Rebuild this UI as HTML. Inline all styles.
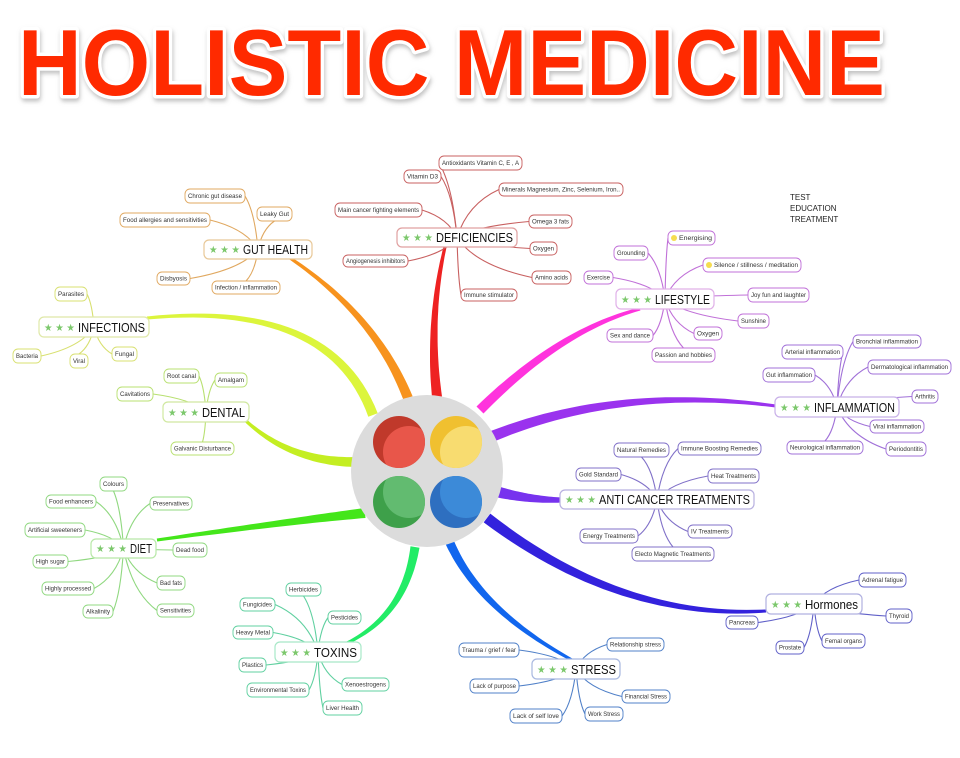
<!DOCTYPE html>
<html><head><meta charset="utf-8"><style>
html,body{margin:0;padding:0;background:#fff;}
svg{display:block;font-family:"Liberation Sans",Arial,sans-serif;}
</style></head><body>
<svg id="s" width="960" height="758" viewBox="0 0 960 758" xmlns="http://www.w3.org/2000/svg">
<defs><filter id="sh" x="-5%" y="-20%" width="110%" height="150%"><feDropShadow dx="1" dy="3" stdDeviation="2" flood-color="#999" flood-opacity="0.6"/></filter>
<clipPath id="c1"><circle cx="399" cy="442" r="26"/></clipPath>
<clipPath id="c2"><circle cx="456" cy="442" r="26"/></clipPath>
<clipPath id="c3"><circle cx="399" cy="502" r="26"/></clipPath>
<clipPath id="c4"><circle cx="456" cy="502" r="26"/></clipPath>
</defs>
<text x="18" y="95" font-size="94" font-weight="bold" textLength="867" lengthAdjust="spacingAndGlyphs" fill="#ff2a00" stroke="#fff" stroke-width="7" paint-order="stroke" stroke-linejoin="round" filter="url(#sh)">HOLISTIC MEDICINE</text>
<text x="790" y="200" font-size="8" fill="#222">TEST</text>
<text x="790" y="211" font-size="8" fill="#222">EDUCATION</text>
<text x="790" y="222" font-size="8" fill="#222">TREATMENT</text>
<g id="mc"></g><g id="lc"></g>
<circle cx="427" cy="471" r="76" fill="#dcdcdc"/>
<circle cx="399" cy="442" r="26" fill="#c0392b"/><circle cx="409" cy="452" r="26" fill="#e8564a" clip-path="url(#c1)"/>
<circle cx="456" cy="442" r="26" fill="#f0c030"/><circle cx="466" cy="452" r="26" fill="#f8dc70" clip-path="url(#c2)"/>
<circle cx="399" cy="502" r="26" fill="#3ea04a"/><circle cx="409" cy="492" r="26" fill="#62bb70" clip-path="url(#c3)"/>
<circle cx="456" cy="502" r="26" fill="#2e6fc0"/><circle cx="466" cy="492" r="26" fill="#3c8ad8" clip-path="url(#c4)"/>
<g id="bx"></g>
</svg>
<script>
const NS='http://www.w3.org/2000/svg';
function el(t,a,p,txt){const e=document.createElementNS(NS,t);for(const k in a)e.setAttribute(k,a[k]);if(txt!==undefined)e.textContent=txt;document.getElementById(p).appendChild(e);return e;}
const M=[
[408,398,375,315,290,258,'#f7931e',10,3],
[437,397,428,320,445,247,'#ee2222',10,3],
[373,415,330,300,147,318,'#dcf53c',10,3],
[355,462,290,462,245,420,'#c4ee22',10,3],
[365,513,300,520,157,540,'#44e61a',10,3],
[415,547,405,615,347,643,'#22ec66',9,3],
[450,543,480,610,572,660,'#1166ee',9,3],
[487,518,620,620,766,611,'#3322dd',11,3],
[498,492,530,500,562,500,'#7733ee',11,5],
[493,436,620,385,776,406,'#9a33ee',11,3],
[480,410,560,330,640,309,'#ff33dd',10,3]];
M.forEach(m=>{const [x0,y0,cx,cy,x1,y1,c,w0,w1]=m;const L=[],R=[];const N=30;
for(let i=0;i<=N;i++){const t=i/N;const x=(1-t)*(1-t)*x0+2*(1-t)*t*cx+t*t*x1,y=(1-t)*(1-t)*y0+2*(1-t)*t*cy+t*t*y1;
let dx=2*(1-t)*(cx-x0)+2*t*(x1-cx),dy=2*(1-t)*(cy-y0)+2*t*(y1-cy);const l=Math.hypot(dx,dy);const w=(w0+(w1-w0)*t)/2;
L.push([x-dy/l*w,y+dx/l*w]);R.push([x+dy/l*w,y-dx/l*w]);}
const pts=L.concat(R.reverse()).map(p=>p[0].toFixed(1)+','+p[1].toFixed(1)).join(' ');el('polygon',{points:pts,fill:c},'mc');});
const D=[
['GUT HEALTH',204,240,312,259,'#e8c898','#e0a860',[['Chronic gut disease',185,189,245,203],['Leaky Gut',257,207,292,221],['Food allergies and sensitivities',120,213,210,227],['Disbyosis',157,272,190,285],['Infection / inflammation',212,281,280,294]]],
['DEFICIENCIES',397,228,517,247,'#e0a0a0','#c86060',[['Antioxidants Vitamin C, E , A',439,156,522,170],['Vitamin D3',404,170,441,183],['Minerals Magnesium, Zinc, Selenium, Iron..',499,183,623,196],['Main cancer fighting elements',335,203,422,217],['Omega 3 fats',529,215,572,228],['Oxygen',530,242,557,255],['Angiogenesis inhibitors',343,255,408,267],['Amino acids',532,271,571,284],['Immune stimulator',461,289,517,301]]],
['INFECTIONS',39,317,149,337,'#dfe8a8','#d8e070',[['Parasites',55,287,87,301],['Bacteria',13,349,41,363],['Viral',70,354,88,368],['Fungal',112,347,137,361]]],
['DENTAL',163,402,249,422,'#d0e8a0','#b8e070',[['Root canal',164,369,199,383],['Amalgam',215,373,247,387],['Cavitations',117,387,153,401],['Galvanic Disturbance',171,442,234,455]]],
['DIET',91,539,156,558,'#b8e8a8','#90d880',[['Colours',100,477,127,491],['Food enhancers',46,495,96,508],['Preservatives',150,497,192,510],['Artificial sweeteners',25,523,85,537],['Dead food',173,543,207,557],['High sugar',33,555,68,568],['Highly processed',42,582,94,595],['Bad fats',157,576,185,590],['Alkalinity',83,605,113,618],['Sensitivities',157,604,194,617]]],
['TOXINS',275,642,361,662,'#a8e8c8','#60d0a0',[['Herbicides',286,583,321,596],['Fungicides',240,598,275,611],['Pesticides',328,611,361,624],['Heavy Metal',233,626,273,639],['Plastics',239,658,266,672],['Xenoestrogens',342,678,389,691],['Environmental Toxins',247,683,309,697],['Liver Health',323,701,362,715]]],
['LIFESTYLE',616,289,714,309,'#e0b0e8','#c070d8',[['Energising',668,231,715,245,1],['Grounding',614,246,648,260],['Silence / stillness / meditation',703,258,801,272,1],['Exercise',584,271,613,284],['Joy fun and laughter',748,288,809,302],['Sunshine',738,314,769,328],['Sex and dance',607,329,653,342],['Oxygen',694,327,722,340],['Passion and hobbies',652,348,715,362]]],
['INFLAMMATION',775,397,899,417,'#c8b0e8','#a070d8',[['Bronchial inflammation',853,335,921,348],['Arterial inflammation',782,345,843,359],['Dermatological inflammation',868,360,951,374],['Gut inflammation',763,368,815,382],['Arthritis',912,390,938,403],['Viral inflammation',870,420,924,433],['Neurological inflammation',787,441,863,454],['Periodontitis',886,442,926,456]]],
['ANTI CANCER TREATMENTS',560,490,754,509,'#b8b0e0','#8070c8',[['Natural Remedies',614,443,669,457],['Immune Boosting Remedies',678,442,761,455],['Gold Standard',576,468,621,481],['Heat Treatments',708,469,759,483],['Energy Treatments',580,529,638,543],['IV Treatments',688,525,732,538],['Electo Magnetic Treatments',632,547,714,561]]],
['Hormones',766,594,862,614,'#b0b0e0','#6060c8',[['Adrenal fatigue',859,573,906,587],['Thyroid',886,609,912,623],['Pancreas',726,616,758,629],['Femal organs',822,634,865,648],['Prostate',776,641,804,654]]],
['STRESS',532,659,620,679,'#a8b8e0','#5080c8',[['Relationship stress',607,638,664,651],['Trauma / grief / fear',459,643,519,657],['Lack of purpose',470,679,519,693],['Financial Stress',622,690,670,703],['Lack of self  love',510,709,562,723],['Work Stress',585,707,623,721]]]];
D.forEach(d=>{const [lab,x1,y1,x2,y2,bc,lc,lv]=d;const hx=(x1+x2)/2,hy=(y1+y2)/2;
lv.forEach(l=>{const [t,a,b,c,e]=l;const lx=(a+c)/2,ly=(b+e)/2;const ex=lx<hx-20?c:(lx>hx+20?a:lx);const ey=Math.abs(lx-hx)<=20?(ly<hy?e:b):ly;
const kx=hx*0.75+ex*0.25,ky=hy*0.3+ey*0.7;
el('path',{d:`M${hx} ${hy} Q${kx} ${ky} ${ex} ${ey}`,fill:'none',stroke:lc,'stroke-width':1.1},'lc');
el('rect',{x:a,y:b,width:c-a,height:e-b,rx:5,fill:'#fff',stroke:lc,'stroke-width':0.9},'bx');
let tx=a+3;if(l[5]){el('circle',{cx:a+6,cy:(b+e)/2,r:3,fill:'#f5dc50'},'bx');tx=a+11;}
el('text',{x:(tx+c-3)/2,y:(b+e)/2+2.2,'font-size':6,'text-anchor':'middle',fill:'#333',textLength:Math.max(5,c-tx-3),lengthAdjust:'spacingAndGlyphs'},'bx',t);});
el('rect',{x:x1,y:y1,width:x2-x1,height:y2-y1,rx:5,fill:'#fff',stroke:bc,'stroke-width':1.2},'bx');
el('text',{x:x1+5,y:y2-6,'font-size':10,fill:'#7cc86c',textLength:31,lengthAdjust:'spacingAndGlyphs'},'bx','★ ★ ★');
el('text',{x:x1+39,y:y2-5,'font-size':13,fill:'#111',textLength:x2-x1-43,lengthAdjust:'spacingAndGlyphs'},'bx',lab);});
</script>
</body></html>
